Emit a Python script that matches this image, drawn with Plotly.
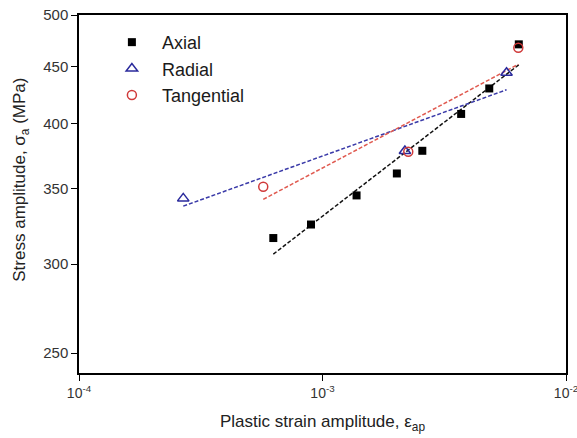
import numpy as np
import plotly.graph_objects as go

# Plastic strain amplitude and stress amplitude (MPa) per orientation
axial_strain = [6.28e-4, 8.97e-4, 1.38e-3, 2.02e-3, 2.57e-3, 3.71e-3, 4.84e-3, 6.40e-3]
axial_stress = [316.5, 325.4, 345.4, 361.3, 378.5, 408.2, 430.1, 470.8]

radial_strain = [2.68e-4, 2.18e-3, 5.70e-3]
radial_stress = [343.3, 378.3, 444.1]

tangential_strain = [5.71e-4, 2.25e-3, 6.37e-3]
tangential_stress = [351.6, 377.7, 467.6]

x_major = [1e-4, 1e-3, 1e-2]
x_major_text = ["10<sup>-4</sup>", "10<sup>-3</sup>", "10<sup>-2</sup>"]
x_minor = [m * d for d in (1e-4, 1e-3) for m in range(2, 10)]
y_major = [250, 300, 350, 400, 450, 500]
y_minor = [v for v in range(240, 501, 10) if v not in y_major]

FONT = "Arial, Liberation Sans, sans-serif"


def power_fit(strain, stress):
    """Least-squares fit of log(stress) vs log(strain), over the data span."""
    lx, ly = np.log10(strain), np.log10(stress)
    n, c = np.polyfit(lx, ly, 1)
    xs = np.array([lx.min(), lx.max()])
    return 10 ** xs, 10 ** (c + n * xs)


fig = go.Figure()

series = [
    ("Axial", axial_strain, axial_stress,
     dict(symbol="square", size=8, color="black"), "#111111"),
    ("Radial", radial_strain, radial_stress,
     dict(symbol="triangle-up-open", size=10, color="#2a2a9c", line=dict(width=1.5)), "#3a3aa8"),
    ("Tangential", tangential_strain, tangential_stress,
     dict(symbol="circle-open", size=9, color="#d03a3a", line=dict(width=1.5)), "#e05a50"),
]

for name, xs, ys, mk, lcol in series:
    fx, fy = power_fit(xs, ys)
    fig.add_trace(go.Scatter(x=fx, y=fy, mode="lines", showlegend=False,
                             line=dict(color=lcol, width=1.5, dash="4px,2px")))

for name, xs, ys, mk, lcol in series:
    fig.add_trace(go.Scatter(x=xs, y=ys, mode="markers", name=name, marker=mk))

# Frame ticks (shapes on log axes take log10 positions): short outward minor
# ticks on bottom/left, inward major and minor ticks on top/right
tick_line = dict(color="black", width=1.2)
for v in x_minor + x_major:
    major = v in x_major
    lv = float(np.log10(v))
    if not major:
        fig.add_shape(type="line", xref="x", x0=lv, x1=lv, yref="paper",
                      ysizemode="pixel", yanchor=0, y0=0, y1=-4, line=tick_line)
    fig.add_shape(type="line", xref="x", x0=lv, x1=lv, yref="paper",
                  ysizemode="pixel", yanchor=1, y0=0, y1=-6 if major else -4,
                  line=tick_line)
for v in y_minor + y_major:
    major = v in y_major
    lv = float(np.log10(v))
    if not major:
        fig.add_shape(type="line", yref="y", y0=lv, y1=lv, xref="paper",
                      xsizemode="pixel", xanchor=0, x0=0, x1=-4, line=tick_line)
    fig.add_shape(type="line", yref="y", y0=lv, y1=lv, xref="paper",
                  xsizemode="pixel", xanchor=1, x0=0, x1=-6 if major else -4,
                  line=tick_line)

xr = [-4, -2]
yr = [np.log10(240), np.log10(500)]
base = dict(type="log", showgrid=False, zeroline=False, tickcolor="black",
            tickwidth=1, tickmode="array", showline=True, mirror=True,
            linecolor="black", linewidth=1.5, ticks="outside", ticklen=6,
            automargin=False, ticklabeloverflow="allow")

fig.update_layout(
    width=577, height=438,
    margin=dict(l=79, r=11, t=15, b=65),
    plot_bgcolor="white", paper_bgcolor="white",
    font=dict(family=FONT, color="#222222"),
    xaxis=dict(**base, range=xr, tickvals=x_major, ticktext=x_major_text,
               tickfont=dict(size=14, color="#333333"),
               title=dict(text="Plastic strain amplitude, ε<sub>ap</sub>",
                          font=dict(size=17, color="#222222"), standoff=16)),
    yaxis=dict(**base, range=yr, tickvals=y_major, ticktext=[str(v) for v in y_major],
               tickfont=dict(size=15, color="#333333")),
    annotations=[dict(text="Stress amplitude, σ<sub>a</sub> (MPa)", textangle=-90,
                      xref="paper", yref="paper", x=-0.119, y=0.54,
                      xanchor="center", yanchor="middle", showarrow=False,
                      font=dict(size=17, color="#222222"))],
    legend=dict(x=0.047, y=0.975, xanchor="left", yanchor="top",
                bgcolor="rgba(0,0,0,0)", font=dict(size=18, color="#1a1a1a"),
                itemwidth=50),
)

fig.write_html("out.html")
